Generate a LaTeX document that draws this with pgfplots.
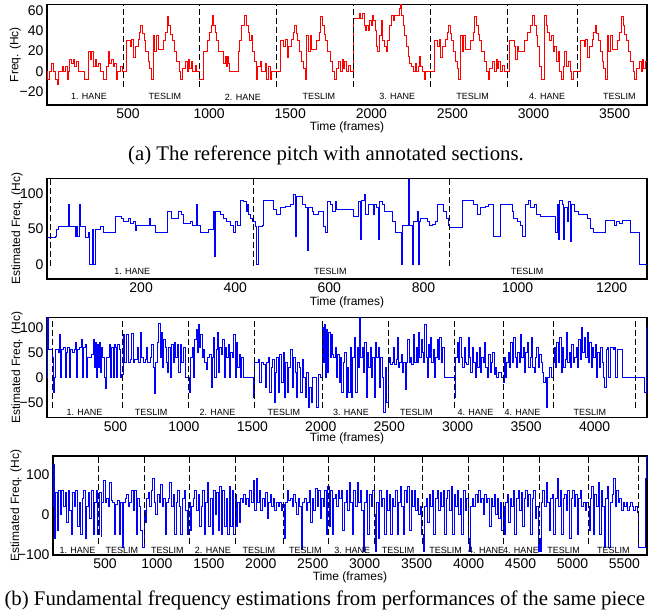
\documentclass[border=0pt]{standalone}
\usepackage{fontspec}
\setmainfont{Liberation Sans}
\newfontfamily\capfont{Liberation Serif}
\usepackage{pgfplots}
\pgfplotsset{compat=1.18}
\tikzset{
 sec/.style={font=\fontsize{9}{9}\selectfont, anchor=center},
 dl/.style={black, line width=0.9pt, dash pattern=on 6pt off 3pt},
}
\pgfplotsset{
 panel/.style={scale only axis, width=600pt, anchor=north west,
   axis line style={line width=1.1pt}, major tick length=0pt,
   tick label style={font=\fontsize{14}{14}\selectfont},
   label style={font=\fontsize{12}{12}\selectfont},
   /pgf/number format/assume math mode=true,
   /pgf/number format/1000 sep={}, scaled ticks=false,
   xlabel={Time (frames)},
   xlabel style={at={(axis description cs:0.5,0)}, anchor=center, yshift=-22pt},
   ylabel style={at={(axis description cs:-0.05,0.5)}, anchor=center, rotate=0},
 },
}
\begin{document}
\begin{tikzpicture}
\useasboundingbox (0,0) rectangle (650pt,-615pt);
% ---------------- (a)
\begin{axis}[panel, at={(47pt,-4.3pt)}, height=100.7pt,
  xmin=0, xmax=3700, ymin=-33, ymax=66,
  xtick={500,1000,1500,2000,2500,3000,3500},
  ytick={-20,0,20,40,60}, yticklabels={−20,0,20,40,60},
  ylabel={Freq. (Hc)}, ylabel style={at={(axis description cs:-0.053,0.5)}}]
\addplot[red, line width=0.9pt, const plot] coordinates {
(0,0) (5,-8) (16,0) (30,8) (41,0) (51,-8) (62,-13) (72,0) (93,5) (103,0) (114,5) (126,-8) (135,0) (141,12) (151,8) (162,12) (172,5) (182,10) (193,0) (234,-8) (255,20) (266,12) (276,20) (287,5) (297,12) (307,5) (318,8) (328,0) (349,-8) (364,5) (376,20) (387,8) (397,12) (407,5) (418,8) (426,-8) (437,0) (453,5) (464,0)
(471,0) (492,30) (513,25) (523,31) (533,14) (544,25) (561,31) (571,38) (579,45) (589,37) (600,30) (610,20) (623,10) (633,3) (644,-8) (654,35) (665,20) (675,35) (686,22) (716,30) (731,38) (741,54) (752,45) (762,36) (773,30) (783,20) (800,10) (814,0) (825,-8) (835,3) (852,10) (864,0) (873,12) (881,3) (889,10) (900,0) (914,6) (923,0)
(943,-8) (966,20) (991,30) (1002,38) (1012,45) (1023,55) (1029,45) (1037,38) (1048,30) (1058,20) (1091,8) (1100,15) (1106,5) (1112,15) (1120,8) (1127,0) (1179,20) (1189,30) (1200,45) (1216,55) (1231,45) (1241,38) (1248,30) (1258,35) (1266,20) (1279,10) (1289,-8) (1300,5) (1314,10) (1325,0) (1345,8) (1356,-8) (1366,5) (1377,-8) (1387,0)
(1418,0) (1439,30) (1460,25) (1470,31) (1480,14) (1491,25) (1508,31) (1518,38) (1526,45) (1536,37) (1547,30) (1557,20) (1570,10) (1580,3) (1591,-8) (1601,35) (1612,20) (1622,35) (1633,22) (1663,30) (1678,38) (1688,54) (1699,45) (1709,36) (1720,30) (1730,20) (1747,10) (1761,0) (1772,-8) (1782,3) (1799,10) (1811,0) (1820,12) (1828,3) (1836,10) (1847,0) (1861,6) (1870,0)
(1890,52) (1925,57) (1936,52) (1946,57) (1956,45) (1963,40) (1971,45) (1981,40) (1988,50) (1998,45) (2009,55) (2015,50) (2023,40) (2029,25) (2040,20) (2050,35) (2061,50) (2071,30) (2081,25) (2092,20) (2102,30) (2113,45) (2123,55) (2134,50) (2144,55) (2171,62) (2177,66) (2186,55) (2196,45) (2206,35) (2217,25) (2227,15) (2238,8) (2248,5) (2259,0) (2269,8) (2279,0) (2290,5) (2294,15) (2304,5) (2315,0) (2325,-8) (2336,0)
(2367,0) (2388,30) (2409,25) (2419,31) (2429,14) (2440,25) (2457,31) (2467,38) (2475,45) (2485,37) (2496,30) (2506,20) (2519,10) (2529,3) (2540,-8) (2550,35) (2561,20) (2571,35) (2582,22) (2612,30) (2627,38) (2637,54) (2648,45) (2658,36) (2669,30) (2679,20) (2696,10) (2710,0) (2721,-8) (2731,3) (2748,10) (2760,0) (2769,12) (2777,3) (2785,10) (2796,0) (2810,6) (2819,0)
(2850,30) (2881,25) (2891,12) (2898,25) (2906,20) (2943,30) (2964,38) (2981,45) (2996,55) (3006,45) (3016,35) (3027,25) (3037,5) (3048,-8) (3068,55) (3079,45) (3089,38) (3100,30) (3110,35) (3121,20) (3131,25) (3141,10) (3152,20) (3162,0) (3173,-8) (3183,5) (3193,20) (3204,5) (3214,10) (3225,0) (3235,-8) (3246,0)
(3271,0) (3292,30) (3313,25) (3323,31) (3333,14) (3344,25) (3361,31) (3371,38) (3379,45) (3389,37) (3400,30) (3410,20) (3423,10) (3433,3) (3444,-8) (3454,35) (3465,20) (3475,35) (3486,22) (3516,30) (3531,38) (3541,54) (3552,45) (3562,36) (3573,30) (3583,20) (3600,10) (3614,0) (3625,-8) (3635,3) (3652,10) (3664,0) (3673,12) (3681,3) (3689,10) (3700,10)};
\addplot[dl] coordinates {(474,-15) (474,66)};
\addplot[dl] coordinates {(943,-15) (943,66)};
\addplot[dl] coordinates {(1415,-15) (1415,66)};
\addplot[dl] coordinates {(1887,-15) (1887,66)};
\addplot[dl] coordinates {(2366,-15) (2366,66)};
\addplot[dl] coordinates {(2842,-15) (2842,66)};
\addplot[dl] coordinates {(3274,-15) (3274,66)};
\node[sec] at (axis cs:259,-25) {1. HANE};
\node[sec] at (axis cs:727,-25) {TESLIM};
\node[sec] at (axis cs:1208,-25) {2. HANE};
\node[sec] at (axis cs:1676,-25) {TESLIM};
\node[sec] at (axis cs:2160,-25) {3. HANE};
\node[sec] at (axis cs:2625,-25) {TESLIM};
\node[sec] at (axis cs:3084,-25) {4. HANE};
\node[sec] at (axis cs:3530,-25) {TESLIM};
\end{axis}
\node[font=\capfont\fontsize{20.8}{21}\selectfont] at (326pt,-155pt) {(a) The reference pitch with annotated sections.};
% ---------------- (b1)
\begin{axis}[panel, at={(47pt,-178.3pt)}, height=100.7pt,
  xmin=0, xmax=1275, ymin=-20, ymax=121,
  xtick={200,400,600,800,1000,1200},
  ytick={0,50,100}, yticklabels={0,50,100},
  ylabel={Estimated Freq. (Hc)}, xlabel style={yshift=-1pt}]
\addplot[blue, line width=0.8pt, const plot] coordinates {
(0,38) (17,40) (20,50) (24,53) (45,85) (47,53) (60,40) (62,53) (65,40) (68,85) (70,53) (81,38) (88,45) (91,0) (96,50) (99,0) (103,50) (113,53) (120,45) (145,67) (159,65) (162,60) (173,65) (177,58) (184,60) (187,48) (189,55) (217,65) (219,55) (230,45) (255,75) (265,65) (279,75) (286,70) (290,58) (304,60) (308,55) (318,85) (320,55) (326,45) (343,50) (354,75) (356,12) (358,75) (368,70) (375,65) (382,60) (389,55) (396,45) (400,60) (404,55) (411,90) (418,88) (423,75) (426,85) (429,70) (433,65) (437,60) (442,53) (446,0) (449,53) (457,55) (460,90) (474,90) (481,78) (488,70) (496,80) (506,82) (517,85) (523,98) (528,40) (530,95) (542,85) (549,80) (553,20) (555,80) (563,75) (567,70) (577,75) (588,53) (592,45) (595,88) (602,85) (606,75) (613,88) (616,78) (652,68) (662,88) (666,36) (668,90) (675,98) (677,70) (684,85) (693,70) (695,85) (701,80) (705,35) (707,88) (712,85) (716,75) (733,60) (740,45) (753,0) (755,55) (768,120) (770,55) (776,0) (778,60) (787,75) (789,0) (791,60) (794,65) (808,60) (812,55) (818,57) (826,60) (829,85) (843,75) (849,65) (854,55) (856,52) (882,90) (907,85) (914,70) (921,80) (932,82) (939,85) (948,40) (964,85) (989,75) (992,65) (999,60) (1006,55) (1010,40) (1017,85) (1024,90) (1028,80) (1035,85) (1040,70) (1049,68) (1081,45) (1084,85) (1087,35) (1089,90) (1095,85) (1098,35) (1100,80) (1106,60) (1109,88) (1112,32) (1114,85) (1120,75) (1130,70) (1148,65) (1155,51) (1162,45) (1187,62) (1205,55) (1209,60) (1216,58) (1223,62) (1240,45) (1258,0) (1275,0)};
\addplot[dl] coordinates {(8,-2) (8,121)};
\addplot[dl] coordinates {(438,-2) (438,121)};
\addplot[dl] coordinates {(855,-2) (855,121)};
\node[sec] at (axis cs:181,-10) {1. HANE};
\node[sec] at (axis cs:602,-10) {TESLIM};
\node[sec] at (axis cs:1020,-10) {TESLIM};
\end{axis}
% ---------------- (b2)
\begin{axis}[panel, at={(47pt,-317.3pt)}, height=100.4pt,
  xmin=0, xmax=4383, ymin=-81, ymax=120,
  xtick={500,1000,1500,2000,2500,3000,3500,4000},
  ytick={-50,0,50,100}, yticklabels={−50,0,50,100},
  ylabel={Estimated Freq. (Hc)}, xlabel style={yshift=1pt}]
\addplot[blue, line width=0.8pt, const plot] coordinates {
(0,0) (5,120) (12,55) (39,40) (49,-30) (57,0) (65,55) (82,50) (92,85) (99,0) (107,55) (122,60) (132,0) (139,50) (152,60) (162,0) (169,55) (187,50) (199,55) (207,70) (215,0) (222,55) (237,60) (249,75) (257,0) (265,60) (282,65) (289,0) (297,40) (327,45) (337,75) (345,20) (352,70) (359,0) (367,65) (375,20) (382,70) (389,10) (397,60) (407,40) (417,0) (425,-22) (432,40) (457,65) (465,0) (472,60) (482,0) (489,65) (502,60) (509,0) (517,65) (527,55) (537,0)
(545,5) (557,85) (567,30) (582,85) (592,30) (607,35) (620,88) (628,30) (642,35) (657,60) (667,30) (682,90) (690,40) (702,30) (717,35) (727,60) (737,30) (752,40) (764,65) (774,20) (784,-32) (792,30) (807,70) (817,108) (825,40) (837,90) (844,20) (852,75) (862,60) (872,30) (882,10) (890,60) (900,0) (910,65) (920,30) (930,70) (940,40) (952,65) (962,10) (972,65) (984,30) (997,60) (1010,0)
(1038,-30) (1048,40) (1060,60) (1070,0) (1078,75) (1088,95) (1098,50) (1106,105) (1114,60) (1123,85) (1133,40) (1143,55) (1153,30) (1163,15) (1173,40) (1188,45) (1198,-20) (1208,40) (1218,80) (1226,0) (1236,55) (1246,90) (1254,10) (1263,60) (1273,45) (1283,75) (1293,0) (1303,60) (1313,40) (1323,65) (1333,0) (1343,50) (1353,40) (1363,85) (1373,0) (1383,70) (1393,20) (1403,45) (1413,0) (1423,40) (1438,0)
(1510,-40) (1517,30) (1544,35) (1554,-10) (1564,30) (1579,25) (1592,-20) (1602,30) (1614,40) (1626,-30) (1636,20) (1646,35) (1659,-50) (1669,10) (1679,40) (1691,-30) (1701,45) (1714,-10) (1724,50) (1734,-40) (1744,30) (1756,-30) (1766,20) (1779,55) (1789,-20) (1799,40) (1811,10) (1822,-40) (1832,30) (1844,20) (1854,-30) (1864,35) (1876,0) (1886,-40) (1896,10) (1907,-60) (1917,-20) (1929,-50) (1939,0) (1969,-60) (1979,5) (1994,0)
(2009,100) (2019,30) (2027,105) (2035,0) (2043,95) (2051,10) (2059,90) (2067,40) (2075,85) (2084,45) (2094,40) (2104,60) (2114,0) (2124,45) (2134,-10) (2144,40) (2154,-30) (2164,30) (2174,50) (2184,-40) (2194,20) (2204,-30) (2214,60) (2224,-40) (2234,40) (2244,80) (2254,-30) (2264,60) (2274,20) (2284,120) (2292,40) (2302,60) (2312,10) (2322,70) (2331,-40) (2341,50) (2351,20) (2359,60) (2369,0) (2379,40) (2389,-40) (2401,70) (2409,40) (2419,60) (2429,-20) (2439,40) (2449,0) (2459,-70) (2469,20) (2479,-50) (2491,-45)
(2493,30) (2500,40) (2510,25) (2520,30) (2530,60) (2540,25) (2550,35) (2560,80) (2568,20) (2577,30) (2587,45) (2597,10) (2605,30) (2615,-25) (2625,30) (2635,75) (2645,30) (2655,40) (2665,25) (2675,85) (2685,30) (2695,60) (2705,30) (2715,90) (2723,40) (2733,75) (2741,50) (2750,30) (2760,105) (2768,40) (2776,0) (2784,65) (2792,40) (2800,80) (2810,30) (2820,55) (2830,0) (2840,40) (2850,75) (2860,35) (2870,80) (2880,30) (2890,60) (2900,0)
(2980,-40) (2986,40) (2996,70) (3006,30) (3016,80) (3026,40) (3036,20) (3046,60) (3056,30) (3066,25) (3076,80) (3086,40) (3096,10) (3106,60) (3116,30) (3126,0) (3136,50) (3146,20) (3156,60) (3166,10) (3176,40) (3186,30) (3196,70) (3206,20) (3216,0) (3226,45) (3236,10) (3246,30) (3256,50) (3266,5) (3276,20) (3286,0) (3301,10) (3316,0) (3331,-10)
(3338,40) (3348,0) (3358,30) (3368,50) (3378,20) (3388,70) (3398,30) (3408,80) (3418,40) (3428,20) (3438,50) (3448,30) (3458,85) (3468,40) (3478,60) (3488,10) (3498,50) (3508,70) (3518,20) (3528,40) (3538,80) (3548,20) (3558,10) (3568,40) (3578,60) (3588,20) (3598,45) (3608,30) (3618,10) (3628,-10) (3638,0) (3648,-60) (3658,0) (3673,20) (3688,0)
(3696,30) (3704,60) (3714,20) (3724,70) (3734,30) (3744,80) (3754,10) (3764,60) (3774,20) (3784,35) (3794,90) (3804,30) (3814,50) (3824,20) (3834,65) (3844,30) (3854,40) (3864,60) (3874,20) (3884,75) (3894,35) (3904,100) (3914,50) (3924,80) (3934,40) (3944,90) (3954,30) (3964,70) (3974,20) (3984,60) (3994,40) (4004,65) (4014,0) (4024,50) (4034,20) (4044,60) (4054,30) (4064,0) (4074,-20) (4084,55) (4094,60) (4104,0) (4114,60) (4134,55) (4144,60) (4154,0) (4164,55) (4194,55) (4204,0) (4362,0) (4367,-30) (4376,100) (4383,100)};
\addplot[dl] coordinates {(42,-62) (42,120)};
\addplot[dl] coordinates {(548,-62) (548,120)};
\addplot[dl] coordinates {(1030,-62) (1030,120)};
\addplot[dl] coordinates {(1512,-62) (1512,120)};
\addplot[dl] coordinates {(2009,-62) (2009,120)};
\addplot[dl] coordinates {(2491,-62) (2491,120)};
\addplot[dl] coordinates {(2980,-62) (2980,120)};
\addplot[dl] coordinates {(3331,-62) (3331,120)};
\addplot[dl] coordinates {(3696,-62) (3696,120)};
\addplot[dl] coordinates {(4302,-62) (4302,120)};
\node[sec] at (axis cs:274,-70) {1. HANE};
\node[sec] at (axis cs:760,-70) {TESLIM};
\node[sec] at (axis cs:1245,-70) {2. HANE};
\node[sec] at (axis cs:1731,-70) {TESLIM};
\node[sec] at (axis cs:2221,-70) {3. HANE};
\node[sec] at (axis cs:2699,-70) {TESLIM};
\node[sec] at (axis cs:3130,-70) {4. HANE};
\node[sec] at (axis cs:3473,-70) {4. HANE};
\node[sec] at (axis cs:3966,-70) {TESLIM};
\end{axis}
% ---------------- (b3)
\begin{axis}[panel, at={(53pt,-456pt)}, width=594pt, height=99pt,
  xmin=0, xmax=5717, ymin=-100, ymax=145,
  xtick={500,1000,1500,2000,2500,3000,3500,4000,4500,5000,5500},
  ytick={-100,0,100}, yticklabels={−100,0,100},
  ylabel={Estimated Freq. (Hc)}, ylabel style={at={(axis description cs:-0.0623,0.5)}}]
\addplot[blue, line width=0.8pt, const plot] coordinates {
(0,20) (8,125) (14,-60) (25,55) (40,-40) (55,60) (70,0) (85,60) (100,20) (115,55) (130,-20) (145,60) (160,10) (175,-50) (190,55) (205,20) (220,60) (235,-30) (250,30) (265,-50) (280,40) (295,60) (310,-60) (325,20) (340,55) (355,-10) (370,60) (385,-50) (400,30) (415,60) (430,-50) (445,55) (462,-55)
(470,30) (485,85) (500,30) (515,40) (530,20) (545,80) (560,35) (575,30) (590,-50) (605,25) (620,35) (635,-50) (650,30) (665,-80) (680,30) (695,40) (710,50) (725,20) (740,30) (755,60) (770,10) (785,60) (800,-50) (815,40) (830,20) (845,-40) (860,-80) (875,10) (894,-20)
(900,40) (915,55) (930,20) (945,60) (960,90) (975,30) (990,0) (1005,50) (1020,30) (1035,75) (1050,20) (1065,40) (1080,-50) (1095,30) (1110,40) (1125,80) (1140,20) (1155,50) (1170,-50) (1185,30) (1200,60) (1215,20) (1230,-50) (1245,40) (1260,60) (1275,10) (1290,-50) (1305,30) (1320,-40)
(1335,20) (1350,40) (1365,60) (1380,10) (1395,50) (1410,-30) (1425,20) (1440,60) (1455,-50) (1470,30) (1485,80) (1500,-30) (1515,40) (1530,-50) (1545,60) (1560,0) (1575,55) (1590,-40) (1605,70) (1620,-50) (1635,60) (1650,-30) (1665,40) (1680,-50) (1695,70) (1710,-30) (1725,60) (1740,-50) (1755,50) (1769,-30)
(1775,30) (1790,-20) (1805,40) (1820,30) (1835,50) (1850,25) (1865,40) (1880,20) (1895,60) (1910,30) (1925,85) (1940,10) (1955,90) (1970,30) (1985,60) (2000,10) (2015,40) (2030,20) (2045,55) (2060,-10) (2075,30) (2090,50) (2105,20) (2120,40) (2135,10) (2150,30) (2165,20) (2180,30) (2195,10) (2210,25) (2231,-60)
(2240,30) (2255,60) (2270,35) (2285,40) (2300,20) (2315,50) (2330,30) (2345,0) (2360,40) (2375,20) (2390,-85) (2405,30) (2420,40) (2435,10) (2450,30) (2465,60) (2480,-20) (2495,40) (2510,10) (2525,65) (2540,20) (2555,60) (2570,-10) (2585,40) (2600,20) (2615,60) (2630,-50) (2645,70) (2663,-30)
(2670,60) (2685,-50) (2700,40) (2715,50) (2730,20) (2745,60) (2760,40) (2775,60) (2790,-40) (2805,30) (2820,60) (2835,10) (2850,80) (2865,30) (2880,-50) (2895,60) (2910,20) (2925,80) (2940,30) (2955,60) (2970,10) (2985,-90) (3000,30) (3015,60) (3030,-50) (3045,50) (3060,20) (3075,60) (3090,0) (3106,-90)
(3115,30) (3130,-60) (3145,60) (3160,20) (3175,40) (3190,-50) (3205,60) (3220,10) (3235,50) (3250,-50) (3265,40) (3280,20) (3295,60) (3310,-50) (3325,30) (3340,70) (3355,20) (3370,-50) (3385,60) (3400,30) (3415,70) (3430,-40) (3445,60) (3460,20) (3475,60) (3490,10) (3505,40) (3520,0) (3535,20) (3550,-50) (3567,-90)
(3575,20) (3590,40) (3605,-20) (3620,50) (3635,20) (3650,60) (3665,-50) (3680,40) (3695,60) (3710,10) (3725,55) (3740,20) (3755,60) (3770,-50) (3785,40) (3800,60) (3815,10) (3830,70) (3845,-50) (3860,50) (3875,20) (3890,60) (3905,0) (3920,40) (3935,-50) (3950,60) (3965,10) (3980,40) (3995,-60) (4010,-90)
(4020,20) (4035,40) (4050,20) (4065,50) (4080,30) (4095,60) (4110,30) (4125,40) (4140,0) (4155,50) (4170,30) (4185,40) (4200,-30) (4215,40) (4230,20) (4245,50) (4260,0) (4275,40) (4290,-10) (4305,30) (4320,-40) (4335,20) (4346,-50)
(4355,30) (4370,50) (4385,-20) (4400,40) (4415,20) (4430,60) (4445,-50) (4460,40) (4475,60) (4490,10) (4505,55) (4520,-30) (4535,40) (4550,60) (4565,20) (4580,50) (4595,-50) (4610,40) (4625,60) (4640,-10) (4655,20) (4670,-90) (4680,-60) (4692,-90)
(4700,30) (4715,60) (4730,20) (4745,80) (4760,30) (4775,-40) (4790,40) (4805,50) (4820,-50) (4835,40) (4850,90) (4865,20) (4880,60) (4895,-50) (4910,40) (4925,50) (4940,10) (4955,60) (4970,-60) (4985,40) (5000,60) (5015,20) (5030,50) (5045,-50) (5060,40) (5075,60) (5090,20) (5105,30) (5120,10) (5135,30) (5150,20) (5163,-40)
(5170,40) (5185,70) (5200,-50) (5215,50) (5230,20) (5245,80) (5260,-50) (5275,60) (5290,20) (5305,-80) (5320,40) (5335,70) (5350,-80) (5365,30) (5380,50) (5395,90) (5410,20) (5425,60) (5440,30) (5455,40) (5470,10) (5485,30) (5500,20) (5515,30) (5530,10) (5545,20) (5560,30) (5575,20) (5590,10) (5605,20) (5620,5) (5630,-80) (5695,-80) (5698,75) (5703,90) (5708,145) (5717,140)};
\addplot[dl] coordinates {(442,-72) (442,145)};
\addplot[dl] coordinates {(876,-72) (876,145)};
\addplot[dl] coordinates {(1309,-72) (1309,145)};
\addplot[dl] coordinates {(1752,-72) (1752,145)};
\addplot[dl] coordinates {(2214,-72) (2214,145)};
\addplot[dl] coordinates {(2647,-72) (2647,145)};
\addplot[dl] coordinates {(3089,-72) (3089,145)};
\addplot[dl] coordinates {(3551,-72) (3551,145)};
\addplot[dl] coordinates {(3994,-72) (3994,145)};
\addplot[dl] coordinates {(4331,-72) (4331,145)};
\addplot[dl] coordinates {(4678,-72) (4678,145)};
\addplot[dl] coordinates {(5149,-72) (5149,145)};
\addplot[dl] coordinates {(5630,-72) (5630,145)};
\node[sec] at (axis cs:236,-88) {1. HANE};
\node[sec] at (axis cs:664,-88) {TESLIM};
\node[sec] at (axis cs:1101,-88) {TESLIM};
\node[sec] at (axis cs:1539,-88) {2. HANE};
\node[sec] at (axis cs:1981,-88) {TESLIM};
\node[sec] at (axis cs:2428,-88) {TESLIM};
\node[sec] at (axis cs:2880,-88) {3. HANE};
\node[sec] at (axis cs:3322,-88) {TESLIM};
\node[sec] at (axis cs:3779,-88) {TESLIM};
\node[sec] at (axis cs:4169,-88) {4. HANE};
\node[sec] at (axis cs:4505,-88) {4. HANE};
\node[sec] at (axis cs:4914,-88) {TESLIM};
\node[sec] at (axis cs:5394,-88) {TESLIM};
\end{axis}
\node[anchor=west, font=\capfont\fontsize{20.8}{21}\selectfont] at (1pt,-600pt) {(b) Fundamental frequency estimations from performances of the same piece};
\end{tikzpicture}
\end{document}
